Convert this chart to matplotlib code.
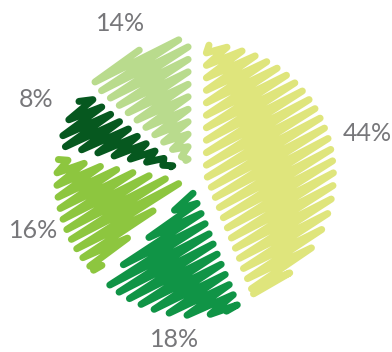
import numpy as np
import matplotlib.pyplot as plt

# share of each slice, clockwise from 12 o'clock
labels = ["44%", "18%", "16%", "8%", "14%"]
shares = [44, 18, 16, 8, 14]
colors = ["#dfe57c", "#109446", "#8dc63f", "#06581f", "#b9db8d"]

PX = 134.0            # pixels per unit radius
STROKE_PX = 7.0       # scribble pen width
GAP = 5.4 / PX        # spacing between scribble passes
ANGLE = np.deg2rad(30)

# label placement: turn away from the slice middle (deg) and distance from centre
label_turn = [3.5, 3.5, 0.5, -0.9, 0.5]
label_dist = [1.325, 1.226, 1.267, 1.321, 1.275]


def wedge_polygon(w, inset):
    cx, cy = w.center
    t1, t2 = np.deg2rad(w.theta1), np.deg2rad(w.theta2)
    half = (t2 - t1) / 2
    mid = t1 + half
    apex_shift = inset / np.sin(half)
    ax_, ay_ = cx + apex_shift * np.cos(mid), cy + apex_shift * np.sin(mid)
    r = w.r - inset
    da = np.arcsin(inset / r)
    ts = np.linspace(t1 + da, t2 - da, 60)
    pts = [(ax_, ay_)] + [(cx + r * np.cos(t), cy + r * np.sin(t)) for t in ts]
    return np.array(pts)


def scribble(poly):
    d = np.array([np.cos(ANGLE), np.sin(ANGLE)])
    n = np.array([-d[1], d[0]])
    proj = poly @ n
    segs = []
    s = proj.min() + GAP * 0.5
    while s < proj.max():
        hits = []
        for i in range(len(poly)):
            p, q = poly[i], poly[(i + 1) % len(poly)]
            a, b = proj[i], proj[(i + 1) % len(poly)]
            if (a - s) * (b - s) <= 0 and a != b:
                hits.append(p + (s - a) / (b - a) * (q - p))
        if len(hits) >= 2:
            hits = np.array(hits)
            t = hits @ d
            segs.append((hits[t.argmin()], hits[t.argmax()]))
        s += GAP
    if not segs:
        return None
    path = [segs[0][0]]
    for i, (lo, hi) in enumerate(segs):
        path.append(hi if i % 2 == 0 else lo)
    return np.array(path)


fig = plt.figure(figsize=(3.92, 3.52), dpi=100)
ax = fig.add_axes([0, 0, 1, 1])

wedges, _ = ax.pie(shares, explode=[0.06] * len(shares),
                   startangle=90, counterclock=False, radius=1,
                   wedgeprops={"alpha": 0})

lw = STROKE_PX * 72 / 100
inset = (STROKE_PX / 2) / PX
for w, c in zip(wedges, colors):
    path = scribble(wedge_polygon(w, inset))
    if path is not None:
        ax.plot(path[:, 0], path[:, 1], color=c, lw=lw,
                solid_capstyle="round", solid_joinstyle="round")

for w, lab, turn, dist in zip(wedges, labels, label_turn, label_dist):
    a = np.deg2rad((w.theta1 + w.theta2) / 2 + turn)
    ax.text(dist * np.cos(a), dist * np.sin(a), lab, ha="center", va="center",
            fontsize=18, color="#77777a", family="Lato")

cx, cy = 195, 177
ax.set_xlim(-cx / PX, (392 - cx) / PX)
ax.set_ylim(-(352 - cy) / PX, cy / PX)
ax.set_aspect("equal")
ax.axis("off")

fig.savefig("out.png", dpi=100)
